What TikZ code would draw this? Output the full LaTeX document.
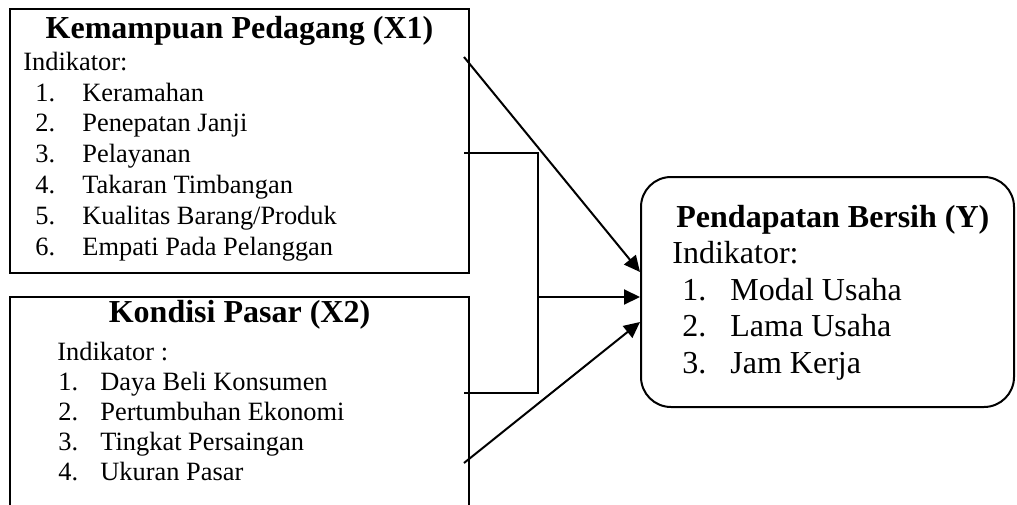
\documentclass[tikz,border=0pt]{standalone}
\usepackage{fontspec}
\setmainfont{Liberation Serif}
\usepackage{tikz}
\usetikzlibrary{arrows.meta,positioning,calc}

\begin{document}
\begin{tikzpicture}[
  x=0.5pt, y=-0.5pt,
  varbox/.style={draw, rectangle, line width=1pt, inner sep=0pt},
  ybox/.style={draw, rectangle, rounded corners=15pt, line width=1pt, inner sep=0pt, minimum width=186.5pt, minimum height=115pt},
  ttl/.style={anchor=base, inner sep=0pt, font=\fontsize{16}{19}\selectfont\bfseries},
  txt/.style={anchor=base west, inner sep=0pt, align=left, font=\fontsize{13.2}{15.4}\selectfont},
  ytxt/.style={anchor=base west, inner sep=0pt, align=left, font=\fontsize{16}{18.25}\selectfont},
  arr/.style={-{Triangle[length=8pt,width=7.5pt]}, line width=1pt},
  lnk/.style={line width=0.8pt}
]
\useasboundingbox (0,0) rectangle (1017,504);
\node[varbox, minimum width=229.5pt, minimum height=132pt] (x1) at (239.5,141) {};
\node[varbox, minimum width=229.5pt, minimum height=106.5pt] (x2) at (239.5,403.5) {};
\node[ybox] (y) at (827.5,292) {};
\node[ttl] (x1t) at (239.5,38) {Kemampuan Pedagang (X1)};
\node[txt] (x1i) at (23,70) {Indikator:};
\node[txt] (x1l) at (35,101) {\begin{tabular}[t]{@{}p{23.5pt}@{}l@{}}
1. & Keramahan\\
2. & Penepatan Janji\\
3. & Pelayanan\\
4. & Takaran Timbangan\\
5. & Kualitas Barang/Produk\\
6. & Empati Pada Pelanggan
\end{tabular}};
\node[ttl] (x2t) at (239.5,322) {Kondisi Pasar (X2)};
\node[txt] (x2i) at (57,360) {Indikator :};
\node[txt, font=\fontsize{13.2}{15}\selectfont] (x2l) at (58,390) {\begin{tabular}[t]{@{}p{21pt}@{}l@{}}
1. & Daya Beli Konsumen\\
2. & Pertumbuhan Ekonomi\\
3. & Tingkat Persaingan\\
4. & Ukuran Pasar
\end{tabular}};
\node[ttl, anchor=base west] (yt) at (676,227) {Pendapatan Bersih (Y)};
\node[ytxt] (yi) at (672,263) {Indikator:};
\node[ytxt] (yl) at (682,300) {\begin{tabular}[t]{@{}p{24pt}@{}l@{}}
1. & Modal Usaha\\
2. & Lama Usaha\\
3. & Jam Kerja
\end{tabular}};
\coordinate (s1) at (464,57);
\coordinate (b1) at (464,153);
\coordinate (b2) at (464,393);
\coordinate (s2) at (464,463);
\coordinate (j) at (538,297);
\draw[lnk] (b1) -| (j) |- (b2);
\draw[arr] (s1) -- ([yshift=10pt]y.west);
\draw[arr] (j) -- ([yshift=-2.5pt]y.west);
\draw[arr] (s2) -- ([yshift=-15pt]y.west);
\end{tikzpicture}
\end{document}
